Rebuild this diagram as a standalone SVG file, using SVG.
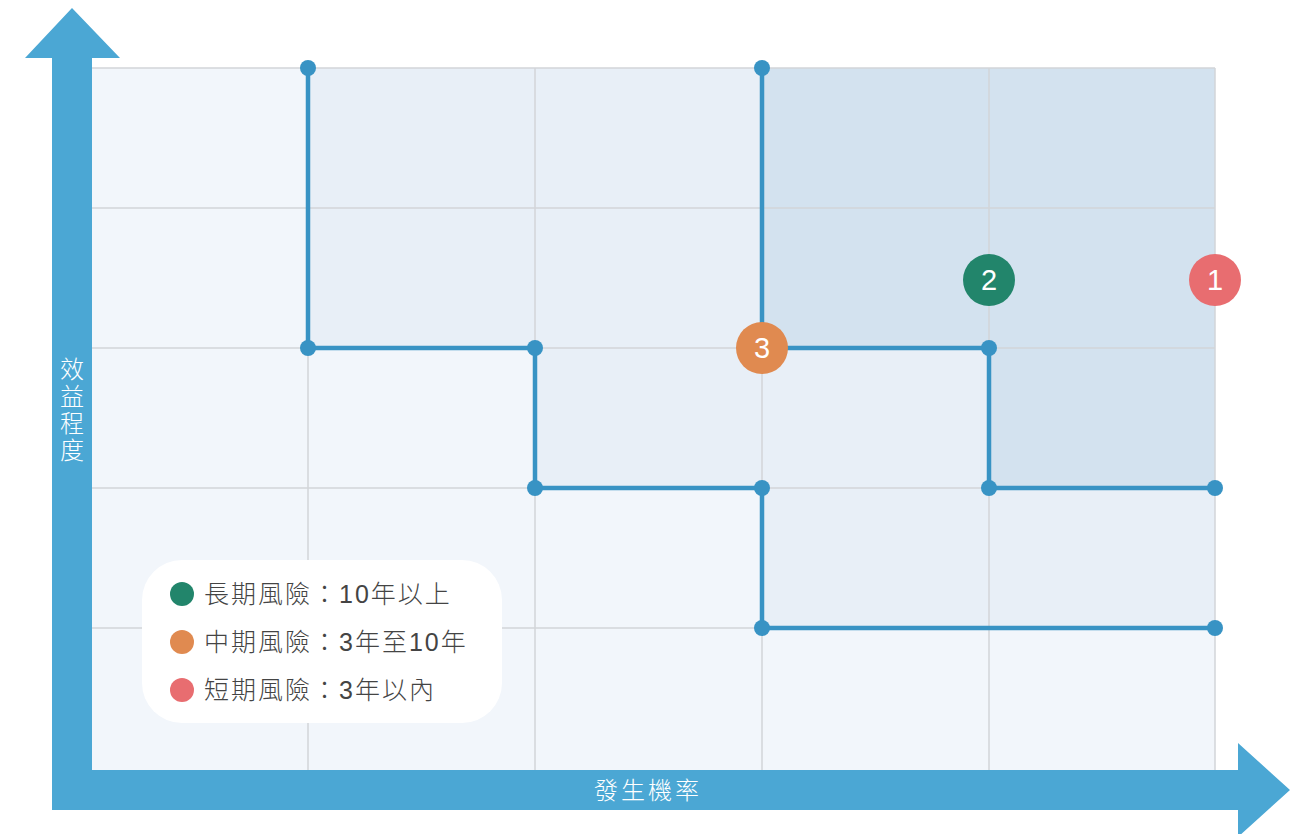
<svg xmlns="http://www.w3.org/2000/svg" width="1304" height="834" viewBox="0 0 1304 834">
<style>
.grid{stroke:#d2d5d9;stroke-width:1.5;fill:none}
.step{stroke:#3893c4;stroke-width:4.5;fill:none;stroke-linejoin:round}
.dot{fill:#3893c4}
.lg{font-family:"Liberation Sans","Noto Sans CJK TC","Noto Sans CJK SC",sans-serif;font-size:25px;font-weight:300;fill:#444;letter-spacing:2px}
.ax{font-family:"Noto Sans CJK TC","Noto Sans CJK SC",sans-serif;font-size:24px;font-weight:300;fill:#fff}
.num{font-family:"Liberation Sans",Arial,sans-serif;font-size:29px;fill:#fff;text-anchor:middle}
</style>
<rect width="1304" height="834" fill="#fff"/>
<g id="plot">
<rect x="80" y="68" width="1135" height="702" fill="#f2f6fb"/>
<path d="M308 68 V348 H535 V488 H762 V628 H1215 V68 Z" fill="#e8eff7"/>
<path d="M762 68 V348 H989 V488 H1215 V68 Z" fill="#d3e2ef"/>
<g class="grid">
<path d="M80 68 H1215 M80 208 H1215 M80 348 H1215 M80 488 H1215 M80 628 H1215"/>
<path d="M308 68 V770 M535 68 V770 M762 68 V770 M989 68 V770 M1215 68 V770"/>
</g>
</g>
<g id="connectors">
<path class="step" d="M308 68 V348 H535 V488 H762 V628 H1215"/>
<path class="step" d="M762 68 V348 H989 V488 H1215"/>
</g>
<g id="dots">
<circle class="dot" cx="308" cy="68" r="8"/>
<circle class="dot" cx="308" cy="348" r="8"/>
<circle class="dot" cx="535" cy="348" r="8"/>
<circle class="dot" cx="535" cy="488" r="8"/>
<circle class="dot" cx="762" cy="488" r="8"/>
<circle class="dot" cx="762" cy="628" r="8"/>
<circle class="dot" cx="1215" cy="628" r="8"/>
<circle class="dot" cx="762" cy="68" r="8"/>
<circle class="dot" cx="989" cy="348" r="8"/>
<circle class="dot" cx="989" cy="488" r="8"/>
<circle class="dot" cx="1215" cy="488" r="8"/>
</g>
<g id="axes">
<path d="M52 810 V58 H25 L72 8 L120 58 H92 V770 H1238 V743 L1290 790 L1238 837 V810 Z" fill="#4ba7d4"/>
<text class="ax" x="72" y="357" style="writing-mode:vertical-rl;letter-spacing:3px">效益程度</text>
<text class="ax" x="648" y="799" text-anchor="middle" style="letter-spacing:3px">發生機率</text>
</g>
<g id="risk-3">
<circle cx="762" cy="348" r="26" fill="#e08a50"/>
<text class="num" x="762" y="358">3</text>
</g>
<g id="risk-2">
<circle cx="989" cy="280" r="26" fill="#22856b"/>
<text class="num" x="989" y="290">2</text>
</g>
<g id="risk-1">
<circle cx="1215" cy="280" r="26" fill="#e86d70"/>
<text class="num" x="1215" y="290">1</text>
</g>
<g id="legend">
<rect x="142" y="560" width="360" height="163" rx="40" fill="#fff"/>
<circle cx="182" cy="594" r="12" fill="#22856b"/>
<circle cx="182" cy="642" r="12" fill="#e08a50"/>
<circle cx="182" cy="690" r="12" fill="#e86d70"/>
<text class="lg" x="204" y="603">長期風險：10年以上</text>
<text class="lg" x="204" y="651">中期風險：3年至10年</text>
<text class="lg" x="204" y="699">短期風險：3年以內</text>
</g>
</svg>
